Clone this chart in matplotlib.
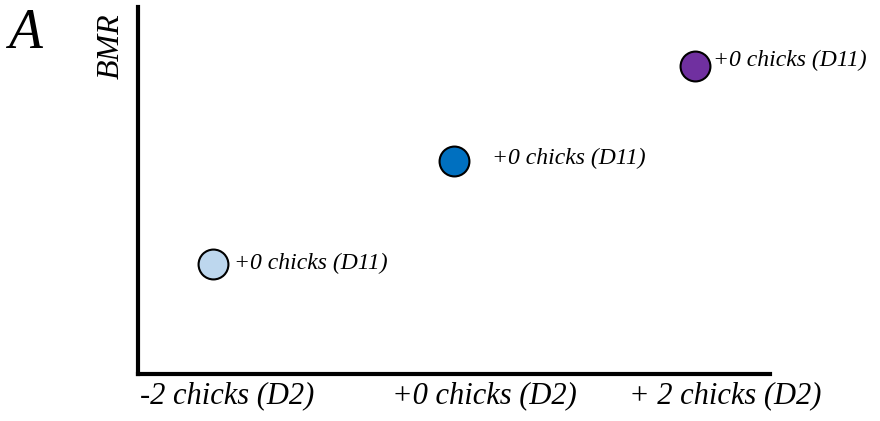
import matplotlib
matplotlib.use("Agg")
import matplotlib.pyplot as plt

# data
brood_change = [-2, 0, 2]          # chicks added/removed at D2
bmr = [0.30, 0.58, 0.84]           # relative BMR (no units)
colours = ["#BDD7EE", "#0070C0", "#7030A0"]
point_labels = ["+0 chicks (D11)", "+0 chicks (D11)", "+0 chicks (D11)"]
tick_labels = ["-2 chicks (D2)", "+0 chicks (D2)", "+ 2 chicks (D2)"]

SERIF = ["Liberation Serif", "DejaVu Serif"]

fig = plt.figure(figsize=(8.8, 4.21), dpi=100)
fig.patch.set_facecolor("white")
ax = fig.add_axes([138 / 880, 47 / 421, 632 / 880, 367 / 421])

for x, y, c in zip(brood_change, bmr, colours):
    ax.plot(x, y, "o", color=c, markersize=21.5, markeredgecolor="black",
            markeredgewidth=1.5, clip_on=False, zorder=5)

# point annotations (offsets in points)
offsets = [(15, 0), (27, 2), (13, 4)]
for x, y, lab, off in zip(brood_change, bmr, point_labels, offsets):
    ax.annotate(lab, xy=(x, y), xytext=off, textcoords="offset points",
                ha="left", va="center", fontsize=17, style="italic",
                family=SERIF)

ax.set_xlim(-2.62, 2.62)
ax.set_ylim(0, 1)

ax.set_xticks([-1.88, 0.25, 2.25])
ax.set_xticklabels(tick_labels, fontsize=22, style="italic", family=SERIF)
ax.tick_params(axis="x", length=0, pad=5)
ax.set_yticks([])

ax.set_ylabel("BMR", fontsize=23, style="italic", family=SERIF)
ax.yaxis.label.set_va("center")
ax.yaxis.set_label_coords(-0.043, 0.894)

for side in ["top", "right"]:
    ax.spines[side].set_visible(False)
for side in ["left", "bottom"]:
    ax.spines[side].set_linewidth(3)
    ax.spines[side].set_color("black")

fig.text(8 / 880, 1 - 48 / 421, "A", fontsize=40, style="italic",
         family=SERIF, ha="left", va="baseline")

fig.savefig("out.png", dpi=100)
